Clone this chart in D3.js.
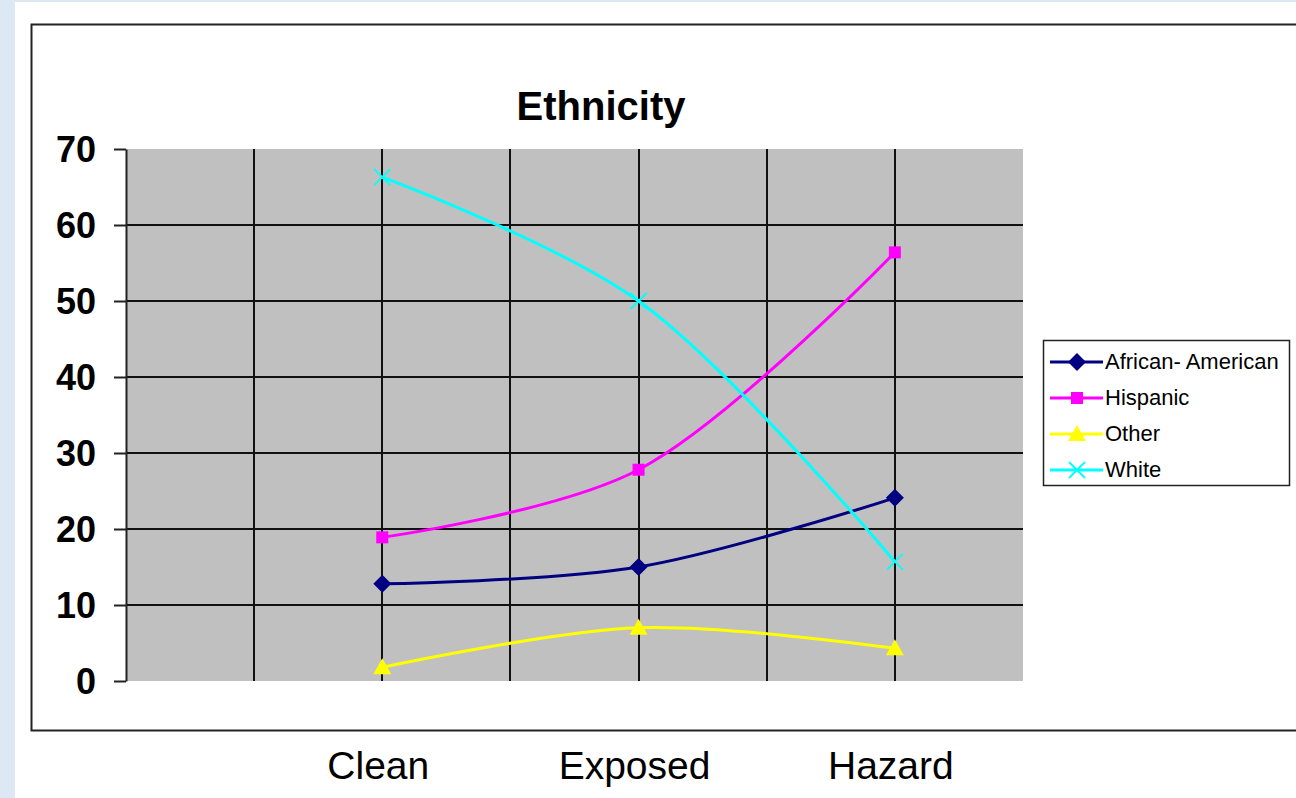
<!DOCTYPE html>
<html>
<head>
<meta charset="utf-8">
<script src="https://cdn.jsdelivr.net/npm/d3@7"></script>
<style>
  html, body { margin: 0; padding: 0; background: #dde8f5; }
  svg { display: block; }
</style>
</head>
<body>
<script>
// Chart data
const categories = ["Clean", "Exposed", "Hazard"];
const seriesNames = ["African- American", "Hispanic", "Other", "White"];
const africanAmerican = [12.8, 15.0, 24.1];
const hispanic = [18.9, 27.8, 56.4];
const other = [1.8, 7.0, 4.3];
const white = [66.3, 50.0, 15.7];
const yTicks = [0, 10, 20, 30, 40, 50, 60, 70];

const seriesValues = [africanAmerican, hispanic, other, white];
const seriesColors = ["#000080", "#ff00ff", "#ffff00", "#00ffff"];
const seriesMarkers = ["diamond", "square", "triangle", "cross"];

const W = 1296, H = 798;
const plot = { left: 126, right: 1023, top: 149, bottom: 681 };
const FONT = "'Liberation Sans', Arial, sans-serif";

const svg = d3.select("body").append("svg")
  .attr("width", W).attr("height", H);

// page and chart frame
svg.append("rect").attr("x", 15).attr("y", 2).attr("width", W - 15).attr("height", H - 2).attr("fill", "#ffffff");
svg.append("rect").attr("x", 31.5).attr("y", 24.5).attr("width", W + 20).attr("height", 706)
  .attr("fill", "#ffffff").attr("stroke", "#222").attr("stroke-width", 2);

const x = d3.scalePoint().domain(categories)
  .range([plot.left, plot.right]).padding(0.75).align(2 / 3);
const y = d3.scaleLinear().domain([0, 70]).range([plot.bottom, plot.top]);
const step = x.step();

// plot background
svg.append("rect")
  .attr("x", plot.left).attr("y", plot.top)
  .attr("width", plot.right - plot.left).attr("height", plot.bottom - plot.top)
  .attr("fill", "#c0c0c0");

// gridlines
const grid = svg.append("g").attr("stroke", "#111").attr("stroke-width", 2);
const vx = [];
categories.forEach(c => { vx.push(x(c) - step / 2); vx.push(x(c)); });
grid.selectAll("line.v").data(vx).join("line")
  .attr("x1", d => Math.round(d)).attr("x2", d => Math.round(d))
  .attr("y1", plot.top).attr("y2", plot.bottom);
grid.selectAll("line.h").data(yTicks.filter(t => t > 0 && t < 70)).join("line")
  .attr("x1", plot.left).attr("x2", plot.right)
  .attr("y1", d => Math.round(y(d))).attr("y2", d => Math.round(y(d)));

// y axis
const yAxis = d3.axisLeft(y).tickValues(yTicks).tickSize(12).tickPadding(18).tickSizeOuter(0);
const ya = svg.append("g").attr("transform", `translate(${plot.left},0)`).call(yAxis);
ya.select(".domain").attr("stroke", "#222").attr("stroke-width", 2);
ya.selectAll(".tick line").attr("stroke", "#222").attr("stroke-width", 2);
ya.selectAll(".tick text")
  .attr("font-family", FONT)
  .attr("font-weight", "bold").attr("font-size", 36).attr("fill", "#000")
  .attr("dy", "0.36em");

// category labels below the frame
svg.append("g").selectAll("text").data(categories).join("text")
  .attr("x", d => x(d) - 4).attr("y", 779)
  .attr("text-anchor", "middle")
  .attr("font-family", FONT)
  .attr("font-size", 39).attr("fill", "#000")
  .text(d => d);

// title
svg.append("text").attr("x", 601).attr("y", 120)
  .attr("text-anchor", "middle")
  .attr("font-family", FONT)
  .attr("font-weight", "bold").attr("font-size", 40).attr("fill", "#000")
  .text("Ethnicity");

// marker drawing
function drawMarker(g, type, color, cx, cy) {
  if (type === "diamond") {
    g.append("path").attr("d", `M${cx},${cy - 9}L${cx + 9},${cy}L${cx},${cy + 9}L${cx - 9},${cy}Z`)
      .attr("fill", color);
  } else if (type === "square") {
    g.append("rect").attr("x", cx - 6).attr("y", cy - 6).attr("width", 12).attr("height", 12).attr("fill", color);
  } else if (type === "triangle") {
    g.append("path").attr("d", `M${cx},${cy - 9}L${cx + 9},${cy + 7}L${cx - 9},${cy + 7}Z`).attr("fill", color);
  } else if (type === "cross") {
    g.append("path").attr("d", `M${cx - 8},${cy - 8}L${cx + 8},${cy + 8}M${cx - 8},${cy + 8}L${cx + 8},${cy - 8}`)
      .attr("stroke", color).attr("stroke-width", 1.8).attr("fill", "none");
  }
}

// series lines
const line = d3.line()
  .x((d, i) => x(categories[i]))
  .y(d => y(d))
  .curve(d3.curveCatmullRom.alpha(0.5));

seriesValues.forEach((vals, s) => {
  const g = svg.append("g");
  g.append("path").attr("d", line(vals))
    .attr("fill", "none").attr("stroke", seriesColors[s]).attr("stroke-width", 3);
  vals.forEach((v, i) => drawMarker(g, seriesMarkers[s], seriesColors[s], x(categories[i]), y(v)));
});

// legend
const lg = svg.append("g");
lg.append("rect").attr("x", 1043.5).attr("y", 340.5).attr("width", 246).attr("height", 145)
  .attr("fill", "#ffffff").attr("stroke", "#222").attr("stroke-width", 1.5);
seriesNames.forEach((name, s) => {
  const ly = 362 + s * 36;
  lg.append("line").attr("x1", 1050).attr("x2", 1103).attr("y1", ly).attr("y2", ly)
    .attr("stroke", seriesColors[s]).attr("stroke-width", 3);
  drawMarker(lg, seriesMarkers[s], seriesColors[s], 1077, ly);
  lg.append("text").attr("x", 1105).attr("y", ly + 7)
    .attr("font-family", FONT)
    .attr("font-size", 22).attr("fill", "#000")
    .text(name);
});
</script>
</body>
</html>
